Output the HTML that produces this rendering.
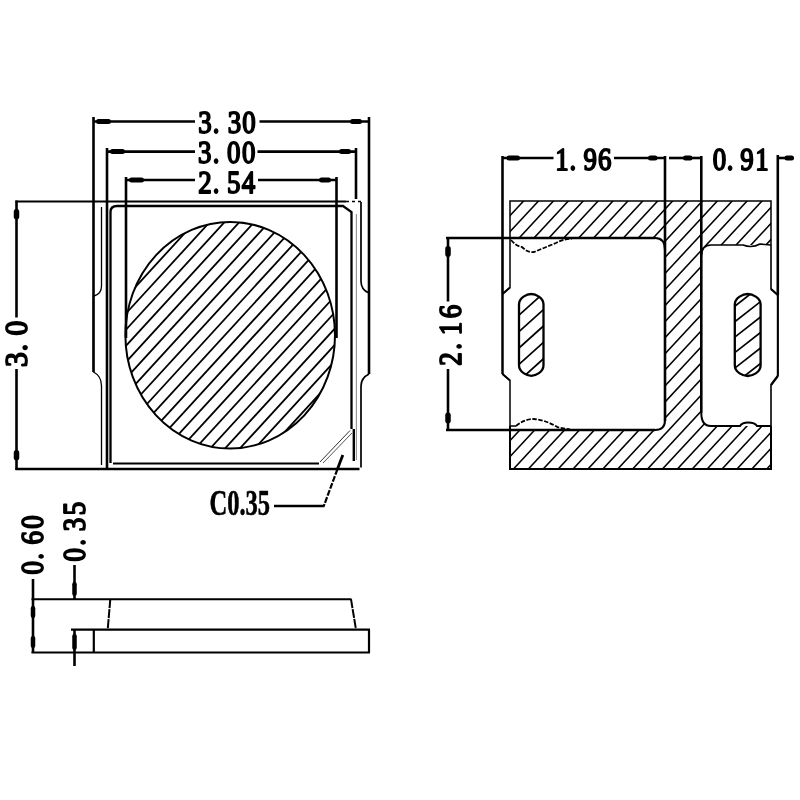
<!DOCTYPE html>
<html><head><meta charset="utf-8"><title>Dimension drawing</title>
<style>html,body{margin:0;padding:0;background:#fff;}svg{display:block;will-change:transform;}text{font-family:"Liberation Serif",serif;}</style>
</head><body>
<svg width="800" height="800" viewBox="0 0 800 800">
<rect width="800" height="800" fill="#fff"/>
<defs>
<clipPath id="cE"><ellipse cx="230.2" cy="335.2" rx="104.8" ry="113.3"/></clipPath>
<clipPath id="cB"><path clip-rule="evenodd" d="M510 201 H771 V469 H510 Z M510 238 H655 Q665 238 665 250 V420 Q665 430 655 430 H510 Z M771 245 H711 Q701 245 701 257 V413 Q701 426 711 426 H771 Z"/></clipPath>
<clipPath id="cSL"><path d="M519 304.5 C519 297.57 527.09 294 531.25 294 C535.41 294 543.5 297.57 543.5 304.5 V365.3 C543.5 372.23 535.41 375.8 531.25 375.8 C527.09 375.8 519 372.23 519 365.3 Z"/></clipPath>
<clipPath id="cSR"><path d="M734.8 304.5 C734.8 297.57 743.31 294 747.7 294 C752.09 294 760.6 297.57 760.6 304.5 V365.5 C760.6 372.43 752.09 376 747.7 376 C743.31 376 734.8 372.43 734.8 365.5 Z"/></clipPath>
</defs>
<line x1="93.5" y1="121.5" x2="195" y2="121.5" stroke="#000" stroke-width="2.6" />
<line x1="259.5" y1="121.5" x2="369" y2="121.5" stroke="#000" stroke-width="2.6" />
<line x1="93.5" y1="117" x2="93.5" y2="296" stroke="#000" stroke-width="2.6" />
<line x1="369" y1="117" x2="369" y2="374" stroke="#000" stroke-width="2.6" />
<line x1="98.5" y1="121.5" x2="108.5" y2="121.5" stroke="#000" stroke-width="5.0" stroke-linecap="round"/>
<line x1="352.5" y1="121.5" x2="359.5" y2="121.5" stroke="#000" stroke-width="5.0" stroke-linecap="round"/>
<line x1="107" y1="151.6" x2="195" y2="151.6" stroke="#000" stroke-width="2.6" />
<line x1="257.5" y1="151.6" x2="356" y2="151.6" stroke="#000" stroke-width="2.6" />
<line x1="107" y1="148" x2="107" y2="468" stroke="#000" stroke-width="2.6" />
<line x1="356" y1="148" x2="356" y2="199" stroke="#000" stroke-width="2.6" />
<line x1="112.5" y1="151.6" x2="122.5" y2="151.6" stroke="#000" stroke-width="5.0" stroke-linecap="round"/>
<line x1="341.5" y1="151.6" x2="348.5" y2="151.6" stroke="#000" stroke-width="5.0" stroke-linecap="round"/>
<line x1="126" y1="180" x2="195" y2="180" stroke="#000" stroke-width="2.6" />
<line x1="258" y1="180" x2="336.5" y2="180" stroke="#000" stroke-width="2.6" />
<line x1="126" y1="177" x2="126" y2="338" stroke="#000" stroke-width="2.6" />
<line x1="336.5" y1="177" x2="336.5" y2="338" stroke="#000" stroke-width="2.6" />
<line x1="131.5" y1="180" x2="141.5" y2="180" stroke="#000" stroke-width="5.0" stroke-linecap="round"/>
<line x1="321.5" y1="180" x2="328.5" y2="180" stroke="#000" stroke-width="5.0" stroke-linecap="round"/>
<text transform="translate(205,133) rotate(0) scale(0.88,1.03)" x="0" y="0" text-anchor="middle" font-family="Liberation Serif" font-weight="normal" font-size="30.5" fill="#000" stroke="#000" stroke-width="1.7" stroke-linejoin="round" vector-effect="non-scaling-stroke">3</text>
<text transform="translate(216.2,133) rotate(0) scale(0.88,1.03)" x="0" y="0" text-anchor="middle" font-family="Liberation Serif" font-weight="normal" font-size="30.5" fill="#000" stroke="#000" stroke-width="1.7" stroke-linejoin="round" vector-effect="non-scaling-stroke">.</text>
<text transform="translate(234.4,133) rotate(0) scale(0.88,1.03)" x="0" y="0" text-anchor="middle" font-family="Liberation Serif" font-weight="normal" font-size="30.5" fill="#000" stroke="#000" stroke-width="1.7" stroke-linejoin="round" vector-effect="non-scaling-stroke">3</text>
<text transform="translate(249,133) rotate(0) scale(0.88,1.03)" x="0" y="0" text-anchor="middle" font-family="Liberation Serif" font-weight="normal" font-size="30.5" fill="#000" stroke="#000" stroke-width="1.7" stroke-linejoin="round" vector-effect="non-scaling-stroke">0</text>
<text transform="translate(204.7,162.5) rotate(0) scale(0.88,1.03)" x="0" y="0" text-anchor="middle" font-family="Liberation Serif" font-weight="normal" font-size="30.5" fill="#000" stroke="#000" stroke-width="1.7" stroke-linejoin="round" vector-effect="non-scaling-stroke">3</text>
<text transform="translate(216.2,162.5) rotate(0) scale(0.88,1.03)" x="0" y="0" text-anchor="middle" font-family="Liberation Serif" font-weight="normal" font-size="30.5" fill="#000" stroke="#000" stroke-width="1.7" stroke-linejoin="round" vector-effect="non-scaling-stroke">.</text>
<text transform="translate(233.8,162.5) rotate(0) scale(0.88,1.03)" x="0" y="0" text-anchor="middle" font-family="Liberation Serif" font-weight="normal" font-size="30.5" fill="#000" stroke="#000" stroke-width="1.7" stroke-linejoin="round" vector-effect="non-scaling-stroke">0</text>
<text transform="translate(248.8,162.5) rotate(0) scale(0.88,1.03)" x="0" y="0" text-anchor="middle" font-family="Liberation Serif" font-weight="normal" font-size="30.5" fill="#000" stroke="#000" stroke-width="1.7" stroke-linejoin="round" vector-effect="non-scaling-stroke">0</text>
<text transform="translate(205,192.5) rotate(0) scale(0.88,1.03)" x="0" y="0" text-anchor="middle" font-family="Liberation Serif" font-weight="normal" font-size="30.5" fill="#000" stroke="#000" stroke-width="1.7" stroke-linejoin="round" vector-effect="non-scaling-stroke">2</text>
<text transform="translate(216.2,192.5) rotate(0) scale(0.88,1.03)" x="0" y="0" text-anchor="middle" font-family="Liberation Serif" font-weight="normal" font-size="30.5" fill="#000" stroke="#000" stroke-width="1.7" stroke-linejoin="round" vector-effect="non-scaling-stroke">.</text>
<text transform="translate(233.8,192.5) rotate(0) scale(0.88,1.03)" x="0" y="0" text-anchor="middle" font-family="Liberation Serif" font-weight="normal" font-size="30.5" fill="#000" stroke="#000" stroke-width="1.7" stroke-linejoin="round" vector-effect="non-scaling-stroke">5</text>
<text transform="translate(248.5,192.5) rotate(0) scale(0.88,1.03)" x="0" y="0" text-anchor="middle" font-family="Liberation Serif" font-weight="normal" font-size="30.5" fill="#000" stroke="#000" stroke-width="1.7" stroke-linejoin="round" vector-effect="non-scaling-stroke">4</text>
<line x1="16.5" y1="200.5" x2="16.5" y2="317.5" stroke="#000" stroke-width="2.6" />
<line x1="16.5" y1="369" x2="16.5" y2="470" stroke="#000" stroke-width="2.6" />
<line x1="16.5" y1="211.75" x2="16.5" y2="216.75" stroke="#000" stroke-width="5.5" stroke-linecap="round"/>
<line x1="16.5" y1="452.75" x2="16.5" y2="457.75" stroke="#000" stroke-width="5.5" stroke-linecap="round"/>
<text transform="translate(27,359.5) rotate(-90) scale(0.97,1.03)" x="0" y="0" text-anchor="middle" font-family="Liberation Serif" font-weight="normal" font-size="30.5" fill="#000" stroke="#000" stroke-width="1.7" stroke-linejoin="round" vector-effect="non-scaling-stroke">3</text>
<text transform="translate(27,347.5) rotate(-90) scale(0.97,1.03)" x="0" y="0" text-anchor="middle" font-family="Liberation Serif" font-weight="normal" font-size="30.5" fill="#000" stroke="#000" stroke-width="1.7" stroke-linejoin="round" vector-effect="non-scaling-stroke">.</text>
<text transform="translate(27,328.1) rotate(-90) scale(0.97,1.03)" x="0" y="0" text-anchor="middle" font-family="Liberation Serif" font-weight="normal" font-size="30.5" fill="#000" stroke="#000" stroke-width="1.7" stroke-linejoin="round" vector-effect="non-scaling-stroke">0</text>
<line x1="15.5" y1="201.5" x2="346" y2="201.5" stroke="#000" stroke-width="2.1" />
<line x1="346" y1="201.5" x2="361" y2="201.5" stroke="#000" stroke-width="1.6" stroke-dasharray="3 3"/>
<path d="M110.5 463 V212 Q110.5 206 117 206 H343 L351.5 212 V429" stroke="#000" stroke-width="2.3" fill="none" />
<line x1="353.8" y1="429" x2="353.8" y2="461" stroke="#000" stroke-width="2.4" />
<line x1="356.4" y1="214" x2="356.4" y2="460" stroke="#999" stroke-width="1.2" />
<path d="M101.5 207 V286 Q101.5 294 94 296" stroke="#000" stroke-width="1.3" fill="none" />
<path d="M93.5 296 V372 Q101.5 376 101.5 386 V465" stroke="#000" stroke-width="1.3" fill="none" />
<line x1="93.5" y1="296" x2="93.5" y2="372" stroke="#000" stroke-width="2.6" />
<path d="M361 202 V281 Q361 290 369 293" stroke="#000" stroke-width="1.7" fill="none" />
<path d="M369 374 Q361 378 361 386 V467.5" stroke="#000" stroke-width="1.7" fill="none" />
<line x1="15.5" y1="469" x2="359.5" y2="469" stroke="#000" stroke-width="2.4" />
<line x1="113" y1="463.5" x2="319" y2="463.5" stroke="#000" stroke-width="1.8" />
<line x1="320" y1="462" x2="350" y2="430.5" stroke="#333" stroke-width="1.0" />
<line x1="323" y1="463" x2="352" y2="433" stroke="#555" stroke-width="1.0" />
<line x1="274" y1="506" x2="324.5" y2="506" stroke="#000" stroke-width="2.4" />
<line x1="342.8" y1="455" x2="337.5" y2="469" stroke="#000" stroke-width="2.8" />
<line x1="337.5" y1="469" x2="323.8" y2="506" stroke="#000" stroke-width="2.2" stroke-dasharray="6 1.5"/>
<text transform="translate(209.5,515) scale(0.672,1)" font-family="Liberation Serif" font-weight="bold" font-size="36.5" fill="#000" stroke="#000" stroke-width="0.6">C0.35</text>
<g clip-path="url(#cE)" stroke="#000" stroke-width="1.8">
<line x1="-122.51" y1="455" x2="97.41" y2="215"/>
<line x1="-107.66" y1="455" x2="112.26" y2="215"/>
<line x1="-92.81" y1="455" x2="127.11" y2="215"/>
<line x1="-77.96" y1="455" x2="141.96" y2="215"/>
<line x1="-63.11" y1="455" x2="156.81" y2="215"/>
<line x1="-48.26" y1="455" x2="171.66" y2="215"/>
<line x1="-33.41" y1="455" x2="186.51" y2="215"/>
<line x1="-18.56" y1="455" x2="201.36" y2="215"/>
<line x1="-3.71" y1="455" x2="216.21" y2="215"/>
<line x1="11.14" y1="455" x2="231.06" y2="215"/>
<line x1="25.99" y1="455" x2="245.91" y2="215"/>
<line x1="40.84" y1="455" x2="260.76" y2="215"/>
<line x1="55.69" y1="455" x2="275.61" y2="215"/>
<line x1="70.54" y1="455" x2="290.46" y2="215"/>
<line x1="85.39" y1="455" x2="305.31" y2="215"/>
<line x1="100.24" y1="455" x2="320.16" y2="215"/>
<line x1="115.09" y1="455" x2="335.01" y2="215"/>
<line x1="129.94" y1="455" x2="349.86" y2="215"/>
<line x1="144.79" y1="455" x2="364.71" y2="215"/>
<line x1="159.64" y1="455" x2="379.56" y2="215"/>
<line x1="174.49" y1="455" x2="394.41" y2="215"/>
<line x1="189.34" y1="455" x2="409.26" y2="215"/>
<line x1="204.19" y1="455" x2="424.11" y2="215"/>
<line x1="219.04" y1="455" x2="438.96" y2="215"/>
<line x1="233.89" y1="455" x2="453.81" y2="215"/>
<line x1="248.74" y1="455" x2="468.66" y2="215"/>
<line x1="263.59" y1="455" x2="483.51" y2="215"/>
<line x1="278.44" y1="455" x2="498.36" y2="215"/>
<line x1="293.29" y1="455" x2="513.21" y2="215"/>
<line x1="308.14" y1="455" x2="528.06" y2="215"/>
<line x1="322.99" y1="455" x2="542.91" y2="215"/>
<line x1="337.84" y1="455" x2="557.76" y2="215"/>
<line x1="352.69" y1="455" x2="572.61" y2="215"/>
<line x1="367.54" y1="455" x2="587.46" y2="215"/>
</g>
<ellipse cx="230.2" cy="335.2" rx="104.8" ry="113.3" fill="none" stroke="#000" stroke-width="2.0"/>
<g clip-path="url(#cB)" stroke="#000" stroke-width="1.55">
<line x1="224.82" y1="475" x2="484.46" y2="195"/>
<line x1="239.72" y1="475" x2="499.36" y2="195"/>
<line x1="254.62" y1="475" x2="514.26" y2="195"/>
<line x1="269.52" y1="475" x2="529.16" y2="195"/>
<line x1="284.42" y1="475" x2="544.06" y2="195"/>
<line x1="299.32" y1="475" x2="558.96" y2="195"/>
<line x1="314.22" y1="475" x2="573.86" y2="195"/>
<line x1="329.12" y1="475" x2="588.76" y2="195"/>
<line x1="344.02" y1="475" x2="603.66" y2="195"/>
<line x1="358.92" y1="475" x2="618.56" y2="195"/>
<line x1="373.82" y1="475" x2="633.46" y2="195"/>
<line x1="388.72" y1="475" x2="648.36" y2="195"/>
<line x1="403.62" y1="475" x2="663.26" y2="195"/>
<line x1="418.52" y1="475" x2="678.16" y2="195"/>
<line x1="433.42" y1="475" x2="693.06" y2="195"/>
<line x1="448.32" y1="475" x2="707.96" y2="195"/>
<line x1="463.22" y1="475" x2="722.86" y2="195"/>
<line x1="478.12" y1="475" x2="737.76" y2="195"/>
<line x1="493.02" y1="475" x2="752.66" y2="195"/>
<line x1="507.92" y1="475" x2="767.56" y2="195"/>
<line x1="522.82" y1="475" x2="782.46" y2="195"/>
<line x1="537.72" y1="475" x2="797.36" y2="195"/>
<line x1="552.62" y1="475" x2="812.26" y2="195"/>
<line x1="567.52" y1="475" x2="827.16" y2="195"/>
<line x1="582.42" y1="475" x2="842.06" y2="195"/>
<line x1="597.32" y1="475" x2="856.96" y2="195"/>
<line x1="612.22" y1="475" x2="871.86" y2="195"/>
<line x1="627.12" y1="475" x2="886.76" y2="195"/>
<line x1="642.02" y1="475" x2="901.66" y2="195"/>
<line x1="656.92" y1="475" x2="916.56" y2="195"/>
<line x1="671.82" y1="475" x2="931.46" y2="195"/>
<line x1="686.72" y1="475" x2="946.36" y2="195"/>
<line x1="701.62" y1="475" x2="961.26" y2="195"/>
<line x1="716.52" y1="475" x2="976.16" y2="195"/>
<line x1="731.42" y1="475" x2="991.06" y2="195"/>
<line x1="746.32" y1="475" x2="1005.96" y2="195"/>
<line x1="761.22" y1="475" x2="1020.86" y2="195"/>
<line x1="776.12" y1="475" x2="1035.76" y2="195"/>
<line x1="791.02" y1="475" x2="1050.66" y2="195"/>
</g>
<g clip-path="url(#cSL)" stroke="#000" stroke-width="1.7">
<line x1="374.26" y1="380" x2="474.21" y2="290"/>
<line x1="392.46" y1="380" x2="492.41" y2="290"/>
<line x1="410.66" y1="380" x2="510.61" y2="290"/>
<line x1="428.86" y1="380" x2="528.81" y2="290"/>
<line x1="447.06" y1="380" x2="547.01" y2="290"/>
<line x1="465.26" y1="380" x2="565.21" y2="290"/>
<line x1="483.46" y1="380" x2="583.41" y2="290"/>
<line x1="501.66" y1="380" x2="601.61" y2="290"/>
<line x1="519.86" y1="380" x2="619.81" y2="290"/>
<line x1="538.06" y1="380" x2="638.01" y2="290"/>
<line x1="556.26" y1="380" x2="656.21" y2="290"/>
<line x1="574.46" y1="380" x2="674.41" y2="290"/>
</g>
<g clip-path="url(#cSR)" stroke="#000" stroke-width="1.7">
<line x1="580.96" y1="380" x2="696.16" y2="290"/>
<line x1="600.76" y1="380" x2="715.96" y2="290"/>
<line x1="620.56" y1="380" x2="735.76" y2="290"/>
<line x1="640.36" y1="380" x2="755.56" y2="290"/>
<line x1="660.16" y1="380" x2="775.36" y2="290"/>
<line x1="679.96" y1="380" x2="795.16" y2="290"/>
<line x1="699.76" y1="380" x2="814.96" y2="290"/>
<line x1="719.56" y1="380" x2="834.76" y2="290"/>
<line x1="739.36" y1="380" x2="854.56" y2="290"/>
<line x1="759.16" y1="380" x2="874.36" y2="290"/>
<line x1="778.96" y1="380" x2="894.16" y2="290"/>
<line x1="798.76" y1="380" x2="913.96" y2="290"/>
</g>
<path d="M510 238 V201 H771 V245" stroke="#000" stroke-width="1.5" fill="none" />
<path d="M510 426 V469 H771 V426" stroke="#000" stroke-width="2.0" fill="none" />
<line x1="502.5" y1="158" x2="553.5" y2="158" stroke="#000" stroke-width="2.6" />
<line x1="614" y1="158" x2="665" y2="158" stroke="#000" stroke-width="2.6" />
<line x1="502.5" y1="156" x2="502.5" y2="294" stroke="#000" stroke-width="2.6" />
<line x1="509.0" y1="158" x2="517.5" y2="158" stroke="#000" stroke-width="5.0" stroke-linecap="round"/>
<line x1="650.5" y1="158" x2="655.0" y2="158" stroke="#000" stroke-width="5.0" stroke-linecap="round"/>
<line x1="669" y1="158" x2="701" y2="158" stroke="#000" stroke-width="2.6" />
<line x1="685.5" y1="158" x2="690.0" y2="158" stroke="#000" stroke-width="5.0" stroke-linecap="round"/>
<line x1="665" y1="156" x2="665" y2="421" stroke="#000" stroke-width="2.6" />
<line x1="701.3" y1="156" x2="701.3" y2="413" stroke="#000" stroke-width="2.6" />
<line x1="777.8" y1="155" x2="777.8" y2="295" stroke="#000" stroke-width="2.6" />
<line x1="777.8" y1="158" x2="793" y2="158" stroke="#000" stroke-width="2.6" />
<line x1="787.0" y1="158" x2="791.5" y2="158" stroke="#000" stroke-width="5.0" stroke-linecap="round"/>
<text transform="translate(562,170) rotate(0) scale(0.88,1.03)" x="0" y="0" text-anchor="middle" font-family="Liberation Serif" font-weight="normal" font-size="30.5" fill="#000" stroke="#000" stroke-width="1.7" stroke-linejoin="round" vector-effect="non-scaling-stroke">1</text>
<text transform="translate(572.8,170) rotate(0) scale(0.88,1.03)" x="0" y="0" text-anchor="middle" font-family="Liberation Serif" font-weight="normal" font-size="30.5" fill="#000" stroke="#000" stroke-width="1.7" stroke-linejoin="round" vector-effect="non-scaling-stroke">.</text>
<text transform="translate(590.3,170) rotate(0) scale(0.88,1.03)" x="0" y="0" text-anchor="middle" font-family="Liberation Serif" font-weight="normal" font-size="30.5" fill="#000" stroke="#000" stroke-width="1.7" stroke-linejoin="round" vector-effect="non-scaling-stroke">9</text>
<text transform="translate(604.7,170) rotate(0) scale(0.88,1.03)" x="0" y="0" text-anchor="middle" font-family="Liberation Serif" font-weight="normal" font-size="30.5" fill="#000" stroke="#000" stroke-width="1.7" stroke-linejoin="round" vector-effect="non-scaling-stroke">6</text>
<text transform="translate(719.5,169.5) rotate(0) scale(0.88,1.03)" x="0" y="0" text-anchor="middle" font-family="Liberation Serif" font-weight="normal" font-size="30.5" fill="#000" stroke="#000" stroke-width="1.7" stroke-linejoin="round" vector-effect="non-scaling-stroke">0</text>
<text transform="translate(730,169.5) rotate(0) scale(0.88,1.03)" x="0" y="0" text-anchor="middle" font-family="Liberation Serif" font-weight="normal" font-size="30.5" fill="#000" stroke="#000" stroke-width="1.7" stroke-linejoin="round" vector-effect="non-scaling-stroke">.</text>
<text transform="translate(747,169.5) rotate(0) scale(0.88,1.03)" x="0" y="0" text-anchor="middle" font-family="Liberation Serif" font-weight="normal" font-size="30.5" fill="#000" stroke="#000" stroke-width="1.7" stroke-linejoin="round" vector-effect="non-scaling-stroke">9</text>
<text transform="translate(762,169.5) rotate(0) scale(0.88,1.03)" x="0" y="0" text-anchor="middle" font-family="Liberation Serif" font-weight="normal" font-size="30.5" fill="#000" stroke="#000" stroke-width="1.7" stroke-linejoin="round" vector-effect="non-scaling-stroke">1</text>
<line x1="448" y1="237" x2="448" y2="301.5" stroke="#000" stroke-width="2.6" />
<line x1="448" y1="369" x2="448" y2="431" stroke="#000" stroke-width="2.6" />
<line x1="448" y1="248.75" x2="448" y2="254.25" stroke="#000" stroke-width="5.5" stroke-linecap="round"/>
<line x1="448" y1="415.25" x2="448" y2="420.75" stroke="#000" stroke-width="5.5" stroke-linecap="round"/>
<text transform="translate(460.5,359) rotate(-90) scale(0.88,1.03)" x="0" y="0" text-anchor="middle" font-family="Liberation Serif" font-weight="normal" font-size="30.5" fill="#000" stroke="#000" stroke-width="1.7" stroke-linejoin="round" vector-effect="non-scaling-stroke">2</text>
<text transform="translate(460.5,346.3) rotate(-90) scale(0.88,1.03)" x="0" y="0" text-anchor="middle" font-family="Liberation Serif" font-weight="normal" font-size="30.5" fill="#000" stroke="#000" stroke-width="1.7" stroke-linejoin="round" vector-effect="non-scaling-stroke">.</text>
<text transform="translate(460.5,328.5) rotate(-90) scale(0.88,1.03)" x="0" y="0" text-anchor="middle" font-family="Liberation Serif" font-weight="normal" font-size="30.5" fill="#000" stroke="#000" stroke-width="1.7" stroke-linejoin="round" vector-effect="non-scaling-stroke">1</text>
<text transform="translate(460.5,311.5) rotate(-90) scale(0.88,1.03)" x="0" y="0" text-anchor="middle" font-family="Liberation Serif" font-weight="normal" font-size="30.5" fill="#000" stroke="#000" stroke-width="1.7" stroke-linejoin="round" vector-effect="non-scaling-stroke">6</text>
<line x1="446" y1="238" x2="655" y2="238" stroke="#000" stroke-width="2.6" />
<line x1="446" y1="430" x2="655" y2="430" stroke="#000" stroke-width="2.6" />
<path d="M655 238 Q665 238 665 250" stroke="#000" stroke-width="2.0" fill="none" />
<path d="M665 420 Q665 430 655 430" stroke="#000" stroke-width="2.0" fill="none" />
<path d="M771 245 L760 244 Q752 248.5 743 245 H711 Q701.3 245 701.3 257" stroke="#000" stroke-width="1.6" fill="none" />
<path d="M701.3 413 Q701.3 426 711 426 H740 Q742 422.5 748 422.5 Q755 422.5 757 426 H771" stroke="#000" stroke-width="2.0" fill="none" />
<path d="M510 238 V287.5 L502.5 294 V374 L510 380.5 V426 H516" stroke="#000" stroke-width="1.5" fill="none" />
<line x1="502.5" y1="294" x2="502.5" y2="374" stroke="#000" stroke-width="2.3" />
<line x1="510" y1="287.5" x2="502.5" y2="294" stroke="#000" stroke-width="2.0" />
<line x1="502.5" y1="374" x2="510" y2="380.5" stroke="#000" stroke-width="2.0" />
<path d="M771 245 V289 L777.8 295 V376 L771 385 V426" stroke="#000" stroke-width="1.6" fill="none" />
<line x1="771" y1="289" x2="777.8" y2="295" stroke="#000" stroke-width="2.2" />
<line x1="777.8" y1="376" x2="771" y2="385" stroke="#000" stroke-width="2.2" />
<line x1="777.8" y1="295" x2="777.8" y2="376" stroke="#000" stroke-width="2.0" />
<path d="M511 240 Q516 246 522 247 Q528 253 534 252 L556 243 Q563 239 572 238.5" stroke="#000" stroke-width="1.8" fill="none" stroke-dasharray="4.5 1.5"/>
<path d="M516 426 Q524 419 534 419 Q546 420 558 427.5 L570 429.5" stroke="#000" stroke-width="1.8" fill="none" stroke-dasharray="4.5 1.5"/>
<path d="M519 304.5 C519 297.57 527.09 294 531.25 294 C535.41 294 543.5 297.57 543.5 304.5 V365.3 C543.5 372.23 535.41 375.8 531.25 375.8 C527.09 375.8 519 372.23 519 365.3 Z" stroke="#000" stroke-width="2.3" fill="none" />
<path d="M734.8 304.5 C734.8 297.57 743.31 294 747.7 294 C752.09 294 760.6 297.57 760.6 304.5 V365.5 C760.6 372.43 752.09 376 747.7 376 C743.31 376 734.8 372.43 734.8 365.5 Z" stroke="#000" stroke-width="2.3" fill="none" />
<line x1="33" y1="579" x2="33" y2="653" stroke="#000" stroke-width="2.6" />
<line x1="74.5" y1="565" x2="74.5" y2="599" stroke="#000" stroke-width="2.6" />
<line x1="74.5" y1="630" x2="74.5" y2="666" stroke="#000" stroke-width="2.6" />
<line x1="33" y1="608.25" x2="33" y2="615.75" stroke="#000" stroke-width="4.5" stroke-linecap="round"/>
<line x1="33" y1="638.25" x2="33" y2="645.75" stroke="#000" stroke-width="4.5" stroke-linecap="round"/>
<line x1="74.5" y1="584.25" x2="74.5" y2="593.75" stroke="#000" stroke-width="4.5" stroke-linecap="round"/>
<line x1="74.5" y1="636.25" x2="74.5" y2="647.75" stroke="#000" stroke-width="4.5" stroke-linecap="round"/>
<line x1="31.5" y1="599.2" x2="351.5" y2="599.2" stroke="#000" stroke-width="2.0" />
<line x1="71" y1="629.6" x2="370" y2="629.6" stroke="#000" stroke-width="2.2" />
<line x1="31.5" y1="652.5" x2="370" y2="652.5" stroke="#000" stroke-width="2.2" />
<line x1="93.8" y1="629.6" x2="93.8" y2="652.5" stroke="#000" stroke-width="2.2" />
<line x1="369" y1="629.6" x2="369" y2="652.5" stroke="#000" stroke-width="2.2" />
<line x1="110.3" y1="599.2" x2="107.7" y2="629.6" stroke="#000" stroke-width="2.0" stroke-dasharray="9 1"/>
<line x1="351" y1="599.2" x2="356" y2="629.6" stroke="#000" stroke-width="2.0" stroke-dasharray="9 1"/>
<text transform="translate(42.5,567.8) rotate(-90) scale(0.88,1.03)" x="0" y="0" text-anchor="middle" font-family="Liberation Serif" font-weight="normal" font-size="30.5" fill="#000" stroke="#000" stroke-width="1.7" stroke-linejoin="round" vector-effect="non-scaling-stroke">0</text>
<text transform="translate(42.5,556.3) rotate(-90) scale(0.88,1.03)" x="0" y="0" text-anchor="middle" font-family="Liberation Serif" font-weight="normal" font-size="30.5" fill="#000" stroke="#000" stroke-width="1.7" stroke-linejoin="round" vector-effect="non-scaling-stroke">.</text>
<text transform="translate(42.5,537.8) rotate(-90) scale(0.88,1.03)" x="0" y="0" text-anchor="middle" font-family="Liberation Serif" font-weight="normal" font-size="30.5" fill="#000" stroke="#000" stroke-width="1.7" stroke-linejoin="round" vector-effect="non-scaling-stroke">6</text>
<text transform="translate(42.5,522) rotate(-90) scale(0.88,1.03)" x="0" y="0" text-anchor="middle" font-family="Liberation Serif" font-weight="normal" font-size="30.5" fill="#000" stroke="#000" stroke-width="1.7" stroke-linejoin="round" vector-effect="non-scaling-stroke">0</text>
<text transform="translate(84.8,554.9) rotate(-90) scale(0.88,1.03)" x="0" y="0" text-anchor="middle" font-family="Liberation Serif" font-weight="normal" font-size="30.5" fill="#000" stroke="#000" stroke-width="1.7" stroke-linejoin="round" vector-effect="non-scaling-stroke">0</text>
<text transform="translate(84.8,542.3) rotate(-90) scale(0.88,1.03)" x="0" y="0" text-anchor="middle" font-family="Liberation Serif" font-weight="normal" font-size="30.5" fill="#000" stroke="#000" stroke-width="1.7" stroke-linejoin="round" vector-effect="non-scaling-stroke">.</text>
<text transform="translate(84.8,524.6) rotate(-90) scale(0.88,1.03)" x="0" y="0" text-anchor="middle" font-family="Liberation Serif" font-weight="normal" font-size="30.5" fill="#000" stroke="#000" stroke-width="1.7" stroke-linejoin="round" vector-effect="non-scaling-stroke">3</text>
<text transform="translate(84.8,508.5) rotate(-90) scale(0.88,1.03)" x="0" y="0" text-anchor="middle" font-family="Liberation Serif" font-weight="normal" font-size="30.5" fill="#000" stroke="#000" stroke-width="1.7" stroke-linejoin="round" vector-effect="non-scaling-stroke">5</text>
</svg>
</body></html>
